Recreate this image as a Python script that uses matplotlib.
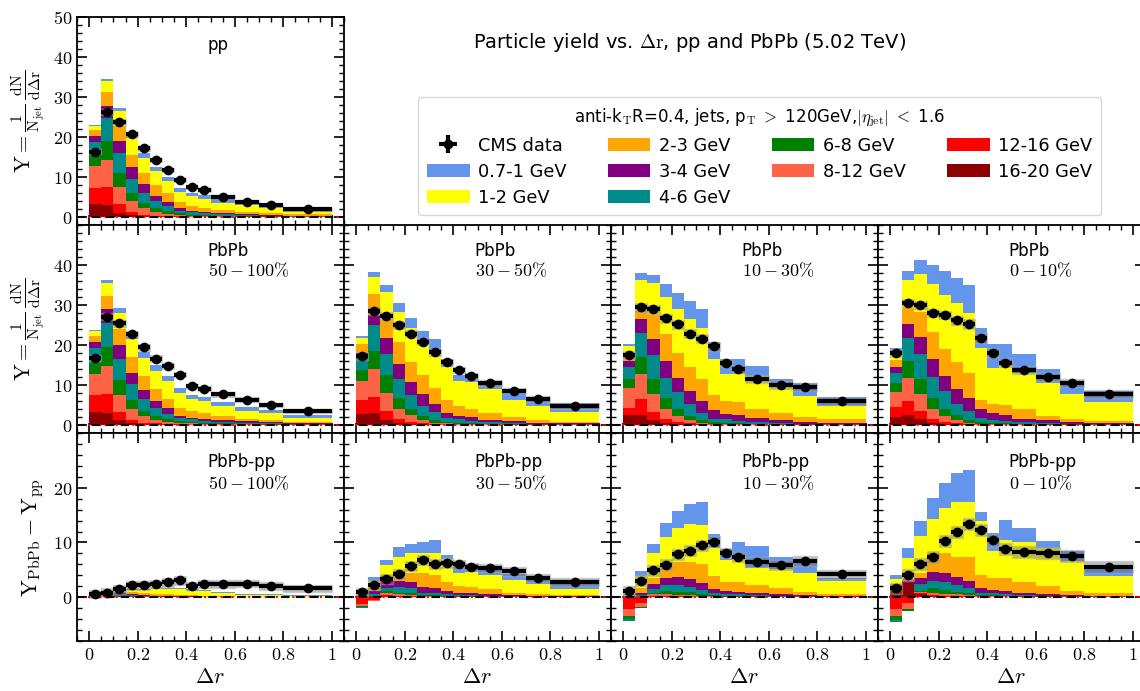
import numpy as np
import matplotlib
matplotlib.use("Agg")
import matplotlib.pyplot as plt
from matplotlib.ticker import MultipleLocator, FixedLocator, FuncFormatter
from matplotlib.patches import Patch, Rectangle

plt.rcParams['mathtext.fontset'] = 'cm'
plt.rcParams['font.family'] = ['DejaVu Sans']

# ---------------- data ----------------
bin_edges = [0, 0.05, 0.1, 0.15, 0.2, 0.25, 0.3, 0.35, 0.4, 0.45, 0.5, 0.6, 0.7, 0.8, 1.0]

# stacking order bottom -> top
track_labels = ['16-20 GeV', '12-16 GeV', '8-12 GeV', '6-8 GeV', '4-6 GeV',
                '3-4 GeV', '2-3 GeV', '1-2 GeV', '0.7-1 GeV']
track_colors = ['#8B0000', '#FF0000', '#FF6347', '#008000', '#008B8B',
                '#800080', '#FFA500', '#FFFF00', '#6495ED']

# pp
pp_stack = [
    [3.3, 3.0, 1.0, 0.5, 0.2, 0.1, 0.05, 0.03, 0.02, 0.02, 0.01, 0.01, 0.01, 0.0],
    [3.95, 4.4, 2.3, 0.8, 0.4, 0.25, 0.15, 0.1, 0.05, 0.04, 0.03, 0.02, 0.01, 0.01],
    [5.45, 6.8, 4.1, 2.6, 1.6, 0.95, 0.6, 0.37, 0.25, 0.2, 0.1, 0.08, 0.05, 0.03],
    [2.7, 4.7, 3.6, 2.1, 1.4, 0.9, 0.6, 0.4, 0.3, 0.24, 0.16, 0.1, 0.08, 0.05],
    [3.3, 5.8, 4.9, 3.6, 2.4, 1.7, 1.3, 0.7, 0.6, 0.5, 0.4, 0.3, 0.2, 0.12],
    [1.6, 3.1, 3.2, 2.8, 2.3, 1.35, 1.1, 0.6, 0.3, 0.2, 0.3, 0.3, 0.25, 0.15],
    [1.4, 3.4, 3.7, 3.2, 2.8, 2.75, 2.2, 1.5, 1.2, 1.1, 0.7, 0.5, 0.4, 0.3],
    [1.0, 2.8, 3.6, 4.15, 3.65, 3.4, 2.9, 2.5, 2.5, 2.3, 1.8, 1.6, 1.2, 0.6],
    [0.3, 0.5, 0.85, 0.85, 1.15, 1.2, 1.2, 1.1, 0.9, 1.0, 0.9, 0.5, 0.4, 0.4],
]
pp_data = [16.3, 26.25, 23.8, 20.7, 17.2, 14.2, 11.8, 9.3, 7.4, 6.75, 5.1, 3.8, 2.9, 1.9]
pp_sys = [0.6, 0.7, 0.7, 0.6, 0.6, 0.5, 0.5, 0.5, 0.4, 0.4, 0.4, 0.4, 0.4, 0.4]

# PbPb 50-100%
pbpb_50_100_stack = [
    [3.25, 3.0, 1.2, 0.5, 0.2, 0.1, 0.05, 0.03, 0.02, 0.02, 0.01, 0.01, 0.01, 0.0],
    [4.35, 4.75, 2.05, 0.8, 0.4, 0.3, 0.15, 0.1, 0.06, 0.05, 0.03, 0.02, 0.01, 0.01],
    [5.2, 7.0, 4.25, 2.6, 1.6, 0.9, 0.6, 0.37, 0.3, 0.25, 0.15, 0.1, 0.06, 0.04],
    [2.8, 4.65, 3.7, 2.3, 1.3, 1.0, 0.7, 0.5, 0.4, 0.3, 0.2, 0.15, 0.1, 0.06],
    [3.6, 6.0, 5.2, 4.0, 2.9, 1.9, 1.3, 0.8, 0.6, 0.5, 0.4, 0.3, 0.2, 0.12],
    [1.55, 3.5, 3.6, 2.9, 2.3, 1.7, 1.4, 0.5, 0.4, 0.4, 0.4, 0.3, 0.25, 0.15],
    [1.5, 3.3, 4.1, 3.9, 3.5, 3.0, 2.4, 1.9, 1.6, 1.4, 1.0, 0.6, 0.5, 0.3],
    [1.25, 3.4, 4.0, 4.6, 4.5, 4.6, 4.5, 3.7, 3.2, 3.1, 2.55, 2.0, 1.9, 1.1],
    [0.3, 0.6, 1.15, 1.1, 1.55, 1.4, 1.2, 1.3, 0.8, 0.9, 1.0, 0.9, 0.75, 0.65],
]
pbpb_50_100_data = [16.8, 27.1, 25.4, 22.8, 19.4, 16.6, 14.75, 12.6, 9.7, 9.1, 7.7, 6.3, 5.1, 3.5]
pbpb_50_100_sys = [0.8, 0.9, 0.9, 0.8, 0.8, 0.8, 0.7, 0.7, 0.6, 0.6, 0.6, 0.6, 0.5, 0.5]

# PbPb 30-50%
pbpb_30_50_stack = [
    [2.7, 2.9, 1.2, 0.6, 0.3, 0.15, 0.08, 0.05, 0.03, 0.02, 0.01, 0.01, 0.01, 0.0],
    [3.6, 4.2, 2.2, 1.0, 0.5, 0.25, 0.12, 0.07, 0.05, 0.04, 0.03, 0.02, 0.01, 0.01],
    [4.7, 6.8, 4.7, 2.3, 1.6, 0.8, 0.4, 0.28, 0.22, 0.19, 0.11, 0.07, 0.06, 0.04],
    [2.8, 4.7, 4.3, 2.8, 1.6, 1.1, 0.6, 0.4, 0.3, 0.25, 0.2, 0.15, 0.07, 0.05],
    [2.6, 6.3, 5.35, 4.7, 3.5, 2.45, 2.0, 0.9, 0.8, 0.6, 0.35, 0.25, 0.2, 0.1],
    [1.6, 2.5, 3.95, 3.85, 3.3, 3.0, 2.1, 1.4, 0.8, 0.8, 0.5, 0.4, 0.25, 0.2],
    [2.2, 5.3, 4.5, 5.45, 5.0, 4.85, 3.9, 3.2, 2.5, 2.0, 1.7, 1.1, 0.7, 0.4],
    [1.6, 4.3, 7.05, 7.5, 8.5, 8.6, 9.3, 8.2, 6.3, 6.9, 6.1, 4.2, 3.4, 2.45],
    [0.45, 1.25, 1.85, 2.3, 2.4, 2.3, 2.9, 1.9, 1.5, 1.6, 1.6, 1.7, 1.7, 2.35],
]
pbpb_30_50_data = [17.25, 28.5, 27.3, 24.9, 22.8, 20.8, 18.2, 15.75, 13.7, 12.25, 10.5, 8.6, 6.5, 4.75]
pbpb_30_50_sys = [0.9, 1.0, 1.0, 1.0, 0.9, 0.9, 0.9, 0.8, 0.8, 0.8, 0.7, 0.7, 0.7, 0.7]

# PbPb 10-30%
pbpb_10_30_stack = [
    [2.4, 2.6, 1.2, 0.6, 0.3, 0.15, 0.08, 0.05, 0.03, 0.02, 0.01, 0.01, 0.01, 0.0],
    [1.9, 3.8, 2.0, 0.8, 0.4, 0.25, 0.12, 0.07, 0.05, 0.04, 0.03, 0.02, 0.01, 0.01],
    [4.95, 6.3, 4.55, 2.7, 1.55, 0.8, 0.4, 0.23, 0.17, 0.14, 0.11, 0.07, 0.05, 0.04],
    [2.35, 4.3, 3.65, 2.6, 1.65, 1.1, 0.6, 0.35, 0.35, 0.3, 0.2, 0.15, 0.08, 0.05],
    [3.0, 5.9, 6.0, 5.05, 4.3, 3.0, 1.9, 0.8, 0.8, 0.6, 0.45, 0.35, 0.2, 0.15],
    [1.5, 3.7, 4.0, 4.15, 3.5, 3.2, 3.0, 2.2, 1.35, 1.3, 0.9, 0.6, 0.35, 0.25],
    [1.6, 1.9, 6.0, 6.85, 6.2, 6.0, 5.3, 3.9, 3.15, 3.35, 2.4, 1.9, 1.3, 0.9],
    [2.0, 7.7, 8.0, 9.25, 11.1, 11.9, 12.9, 9.0, 6.8, 6.95, 8.15, 6.65, 5.25, 3.35],
    [0.55, 1.7, 2.2, 3.3, 3.9, 4.5, 4.6, 4.2, 3.7, 3.7, 2.45, 1.65, 3.35, 2.15],
]
pbpb_10_30_data = [17.5, 29.4, 28.9, 26.7, 25.2, 22.8, 21.6, 19.7, 15.6, 14.0, 11.6, 9.9, 9.6, 6.1]
pbpb_10_30_sys = [1.0, 1.1, 1.1, 1.1, 1.1, 1.1, 1.1, 1.1, 1.0, 1.0, 1.0, 1.0, 1.0, 1.0]

# PbPb 0-10%
pbpb_0_10_stack = [
    [2.1, 2.5, 1.4, 0.6, 0.3, 0.15, 0.08, 0.05, 0.03, 0.02, 0.01, 0.01, 0.01, 0.0],
    [2.5, 3.5, 2.0, 1.0, 0.5, 0.25, 0.12, 0.07, 0.05, 0.04, 0.03, 0.02, 0.01, 0.01],
    [3.6, 5.7, 4.3, 2.5, 1.45, 0.8, 0.4, 0.23, 0.17, 0.14, 0.11, 0.07, 0.05, 0.04],
    [2.2, 4.3, 3.7, 2.7, 1.85, 1.2, 0.7, 0.45, 0.35, 0.3, 0.2, 0.15, 0.08, 0.05],
    [2.5, 5.8, 6.3, 5.3, 4.4, 2.9, 2.3, 0.9, 0.6, 0.5, 0.35, 0.25, 0.15, 0.1],
    [1.6, 3.5, 4.3, 4.5, 3.75, 3.8, 3.1, 2.2, 1.7, 1.5, 0.9, 0.7, 0.4, 0.3],
    [1.7, 4.0, 6.25, 6.65, 6.85, 6.65, 6.2, 2.3, 2.3, 2.4, 2.3, 1.05, 0.9, 0.5],
    [2.3, 6.9, 9.45, 11.95, 13.3, 14.65, 15.0, 13.1, 9.1, 10.5, 9.0, 8.35, 6.1, 4.75],
    [0.7, 2.3, 3.55, 4.7, 6.1, 6.4, 7.1, 4.9, 5.9, 4.9, 4.8, 3.5, 2.3, 2.75],
]
pbpb_0_10_data = [18.0, 30.5, 30.0, 28.0, 27.5, 26.2, 25.25, 21.75, 18.1, 15.6, 13.7, 12.0, 10.6, 7.7]
pbpb_0_10_sys = [1.0, 1.1, 1.1, 1.1, 1.1, 1.1, 1.2, 1.2, 1.1, 1.1, 1.0, 1.0, 1.0, 1.0]

# PbPb - pp
diff_50_100_stack = [
    [0.0, 0.0, 0.0, 0.0, 0.0, 0.0, 0.0, 0.0, 0.0, 0.0, 0.0, 0.0, 0.0, 0.0],
    [0.0, 0.05, 0.02, 0.01, 0.0, 0.0, 0.0, 0.0, 0.0, 0.0, 0.0, 0.0, 0.0, 0.0],
    [0.05, 0.1, 0.08, 0.05, 0.03, 0.02, 0.01, 0.01, 0.0, 0.0, 0.0, 0.0, 0.0, 0.0],
    [0.05, 0.1, 0.1, 0.1, 0.05, 0.04, 0.03, 0.02, 0.02, 0.01, 0.01, 0.0, 0.0, 0.0],
    [0.1, 0.25, 0.25, 0.2, 0.15, 0.1, 0.08, 0.05, 0.04, 0.03, 0.02, 0.01, 0.01, 0.01],
    [0.05, 0.2, 0.25, 0.2, 0.2, 0.15, 0.12, 0.1, 0.08, 0.06, 0.04, 0.03, 0.02, 0.02],
    [0.1, 0.2, 0.3, 0.35, 0.35, 0.35, 0.3, 0.25, 0.2, 0.15, 0.1, 0.06, 0.05, 0.04],
    [0.1, 0.2, 0.3, 0.4, 0.55, 0.8, 0.95, 1.0, 0.85, 0.8, 0.55, 0.35, 0.3, 0.2],
    [0.05, 0.1, 0.1, 0.1, 0.1, 0.15, 0.2, 0.3, 0.25, 0.2, 0.2, 0.2, 0.15, 0.15],
]
diff_50_100_data = [0.55, 0.8, 1.45, 2.2, 2.2, 2.4, 2.75, 3.1, 2.1, 2.4, 2.4, 2.5, 2.1, 1.6]
diff_50_100_sys = [0.7, 0.8, 0.8, 0.8, 0.8, 0.8, 0.8, 0.8, 0.7, 0.7, 0.7, 0.7, 0.7, 0.7]

diff_30_50_stack = [
    [-0.2, -0.1, 0.1, 0.1, 0.05, 0.03, 0.02, 0.01, 0.01, 0.01, 0.0, 0.0, 0.0, 0.0],
    [-1.1, -0.5, 0.25, 0.15, 0.1, 0.07, 0.05, 0.03, 0.02, 0.02, 0.01, 0.01, 0.0, 0.0],
    [-0.3, -0.1, 0.35, 0.25, 0.2, 0.15, 0.1, 0.06, 0.05, 0.04, 0.03, 0.02, 0.01, 0.01],
    [-0.2, 0.15, 0.45, 0.35, 0.35, 0.2, 0.2, 0.15, 0.1, 0.08, 0.06, 0.04, 0.03, 0.02],
    [-0.1, 0.45, 0.6, 1.1, 0.95, 0.4, 0.33, 0.25, 0.2, 0.2, 0.15, 0.1, 0.06, 0.04],
    [0.15, 0.5, 1.25, 1.05, 1.05, 0.95, 1.05, 0.65, 0.47, 0.4, 0.25, 0.2, 0.1, 0.08],
    [0.3, 0.6, 0.9, 1.8, 1.8, 2.6, 2.25, 1.65, 1.2, 1.2, 0.95, 0.48, 0.3, 0.2],
    [0.45, 1.3, 1.9, 2.6, 3.5, 3.75, 4.0, 4.1, 2.45, 2.65, 2.65, 2.25, 2.0, 1.1],
    [0.1, 0.7, 1.0, 1.7, 1.7, 1.95, 2.4, 0.8, 1.95, 1.4, 1.6, 1.2, 1.1, 0.95],
]
diff_30_50_data = [0.9, 2.2, 3.3, 4.2, 5.65, 6.75, 6.1, 6.3, 6.0, 5.5, 5.35, 4.7, 3.5, 2.8]
diff_30_50_sys = [0.8, 0.9, 0.9, 0.9, 0.9, 0.9, 0.9, 0.9, 0.8, 0.8, 0.8, 0.8, 0.8, 0.8]

diff_10_30_stack = [
    [0.05, 0.05, 0.1, 0.1, 0.05, 0.03, 0.02, 0.01, 0.01, 0.01, 0.0, 0.0, 0.0, 0.0],
    [-2.2, -1.1, 0.15, 0.15, 0.1, 0.07, 0.05, 0.03, 0.02, 0.02, 0.01, 0.01, 0.0, 0.0],
    [-1.2, -0.6, 0.25, 0.35, 0.3, 0.25, 0.2, 0.12, 0.07, 0.06, 0.05, 0.03, 0.02, 0.01],
    [-0.6, -0.3, 0.35, 0.5, 0.55, 0.55, 0.4, 0.25, 0.15, 0.13, 0.1, 0.08, 0.05, 0.03],
    [-0.4, 0.3, 0.6, 1.1, 1.2, 1.0, 0.7, 0.3, 0.3, 0.28, 0.2, 0.15, 0.1, 0.06],
    [0.1, 0.4, 0.95, 1.4, 1.5, 1.4, 1.2, 0.75, 0.6, 0.5, 0.4, 0.28, 0.2, 0.1],
    [0.15, 0.85, 1.2, 2.6, 2.8, 3.2, 3.55, 2.45, 1.7, 1.7, 1.45, 1.05, 0.5, 0.3],
    [0.15, 2.3, 4.4, 4.8, 6.15, 6.8, 7.1, 5.0, 3.95, 4.95, 3.2, 3.5, 3.55, 2.5],
    [0.05, 0.9, 1.7, 2.5, 3.1, 3.7, 4.2, 2.7, 1.95, 2.5, 3.95, 2.3, 2.2, 0.5],
]
diff_10_30_data = [1.15, 3.0, 4.9, 5.95, 7.85, 8.5, 9.5, 10.15, 8.0, 7.35, 6.4, 5.95, 6.55, 4.15]
diff_10_30_sys = [0.9, 1.0, 1.0, 1.0, 1.0, 1.0, 1.0, 1.0, 0.9, 0.9, 0.9, 0.9, 0.9, 0.9]

diff_0_10_stack = [
    [1.8, 2.6, 0.5, 0.2, 0.1, 0.1, 0.05, 0.03, 0.02, 0.01, 0.01, 0.0, 0.0, 0.0],
    [-2.2, -1.0, 0.2, 0.25, 0.2, 0.15, 0.1, 0.07, 0.05, 0.04, 0.03, 0.02, 0.01, 0.01],
    [-1.2, -1.2, 0.2, 0.4, 0.35, 0.25, 0.2, 0.15, 0.1, 0.08, 0.06, 0.04, 0.03, 0.02],
    [-0.7, -0.3, 0.3, 0.75, 0.7, 0.5, 0.4, 0.2, 0.18, 0.15, 0.1, 0.08, 0.05, 0.04],
    [-0.5, -0.05, 1.3, 1.4, 1.45, 1.2, 0.9, 0.4, 0.35, 0.3, 0.25, 0.16, 0.1, 0.08],
    [0.3, 0.3, 1.0, 1.6, 1.6, 1.5, 1.35, 0.9, 0.6, 0.57, 0.4, 0.25, 0.2, 0.15],
    [0.3, 0.5, 0.9, 3.55, 3.6, 3.7, 4.35, 2.25, 2.2, 2.45, 1.95, 1.5, 0.75, 0.55],
    [1.0, 3.8, 6.7, 6.2, 8.25, 10.0, 10.05, 9.9, 4.95, 6.8, 7.2, 6.85, 5.45, 3.05],
    [0.6, 1.8, 2.8, 3.85, 4.65, 5.35, 5.8, 1.7, 3.35, 3.65, 2.6, 1.4, 1.85, 1.6],
]
diff_0_10_data = [1.6, 4.1, 6.1, 7.4, 10.2, 11.9, 13.3, 12.3, 10.45, 8.75, 8.3, 8.1, 7.6, 5.6]
diff_0_10_sys = [1.0, 1.1, 1.1, 1.1, 1.1, 1.1, 1.1, 1.1, 1.1, 1.1, 1.1, 1.1, 1.1, 1.1]

centralities = ['50-100%', '30-50%', '10-30%', '0-10%']
cent_math = [r'$50-100\%$', r'$30-50\%$', r'$10-30\%$', r'$0-10\%$']

# ---------------- drawing ----------------
W, H = 1140, 691
fig = plt.figure(figsize=(W / 100, H / 100), dpi=100)

AX_L, AX_W, AX_H = 77, 267, 208
ROW_TOP = [17, 225, 433]


def make_ax(col, row):
    left = (AX_L + AX_W * col) / W
    bottom = (H - (ROW_TOP[row] + AX_H)) / H
    return fig.add_axes([left, bottom, AX_W / W, AX_H / H])


edges = np.array(bin_edges)
lefts = edges[:-1]
widths = np.diff(edges)
centers = lefts + widths / 2

fmt = FuncFormatter(lambda v, p: '$%g$' % v)


def draw_panel(ax, stack, data, sys, ylim, yticks):
    pos = np.zeros(len(lefts))
    neg = np.zeros(len(lefts))
    for vals, col in zip(stack, track_colors):
        v = np.array(vals, dtype=float)
        bottom = np.where(v >= 0, pos, neg)
        ax.bar(lefts, v, width=widths, bottom=bottom, align='edge',
               color=col, linewidth=0, zorder=2)
        pos = pos + np.clip(v, 0, None)
        neg = neg + np.clip(v, None, 0)
    d = np.array(data)
    s = np.array(sys)
    for x0, w, y, e in zip(lefts, widths, d, s):
        ax.add_patch(Rectangle((x0, y - e), w, 2 * e, facecolor='#707070',
                               alpha=0.45, edgecolor='#b0b0b0', linewidth=1.0,
                               zorder=3))
    cont = ax.errorbar(centers, d, xerr=widths / 2, yerr=0.25 * s, fmt='o',
                       color='black', ms=6, elinewidth=3, capsize=0, zorder=4)
    ax.axhline(0, color='red', ls=':', lw=1.5, zorder=4.5)
    ax.axhline(0, color='black', ls='--', lw=1.5, zorder=5, dashes=(4, 3))
    ax.set_xlim(-0.05, 1.05)
    ax.set_ylim(*ylim)
    ax.xaxis.set_major_locator(FixedLocator([0, 0.2, 0.4, 0.6, 0.8, 1.0]))
    ax.xaxis.set_minor_locator(MultipleLocator(0.05))
    ax.yaxis.set_major_locator(FixedLocator(yticks))
    ax.yaxis.set_minor_locator(MultipleLocator(2))
    ax.xaxis.set_major_formatter(fmt)
    ax.yaxis.set_major_formatter(fmt)
    ax.tick_params(which='both', direction='in', top=True, right=True,
                   labelsize=13)
    ax.tick_params(which='major', length=7, width=1.2)
    ax.tick_params(which='minor', length=3.5, width=1.0)
    for sp in ax.spines.values():
        sp.set_linewidth(1.3)
    return cont


ylab_top = r'$\mathrm{Y}=\frac{1}{\mathrm{N_{jet}}}\,\frac{\mathrm{dN}}{\mathrm{d\Delta r}}$'
ylab_bot = r'$\mathrm{Y_{PbPb}-Y_{pp}}$'

# top row: pp
ax_pp = make_ax(0, 0)
cms_handle = draw_panel(ax_pp, pp_stack, pp_data, pp_sys, (-2, 50), [0, 10, 20, 30, 40, 50])
ax_pp.tick_params(labelbottom=False)
ax_pp.text(0.49, 0.865, 'pp', transform=ax_pp.transAxes, fontsize=12, va='center')
ax_pp.set_ylabel(ylab_top, fontsize=16, labelpad=4)

mid_stacks = [pbpb_50_100_stack, pbpb_30_50_stack, pbpb_10_30_stack, pbpb_0_10_stack]
mid_data = [pbpb_50_100_data, pbpb_30_50_data, pbpb_10_30_data, pbpb_0_10_data]
mid_sys = [pbpb_50_100_sys, pbpb_30_50_sys, pbpb_10_30_sys, pbpb_0_10_sys]
bot_stacks = [diff_50_100_stack, diff_30_50_stack, diff_10_30_stack, diff_0_10_stack]
bot_data = [diff_50_100_data, diff_30_50_data, diff_10_30_data, diff_0_10_data]
bot_sys = [diff_50_100_sys, diff_30_50_sys, diff_10_30_sys, diff_0_10_sys]

for c in range(4):
    ax = make_ax(c, 1)
    draw_panel(ax, mid_stacks[c], mid_data[c], mid_sys[c], (-2, 50), [0, 10, 20, 30, 40])
    ax.tick_params(labelbottom=False)
    ax.text(0.49, 0.875, 'PbPb', transform=ax.transAxes, fontsize=12, va='center')
    ax.text(0.49, 0.78, cent_math[c], transform=ax.transAxes, fontsize=13, va='center')
    if c == 0:
        ax.set_ylabel(ylab_top, fontsize=16, labelpad=4)
    else:
        ax.tick_params(labelleft=False)

    axb = make_ax(c, 2)
    draw_panel(axb, bot_stacks[c], bot_data[c], bot_sys[c], (-8, 30), [0, 10, 20])
    axb.text(0.49, 0.86, 'PbPb-pp', transform=axb.transAxes, fontsize=12, va='center')
    axb.text(0.49, 0.755, cent_math[c], transform=axb.transAxes, fontsize=13, va='center')
    axb.set_xlabel(r'$\Delta r$', fontsize=16, labelpad=2)
    if c == 0:
        axb.set_ylabel(ylab_bot, fontsize=16, labelpad=4)
    else:
        axb.tick_params(labelleft=False)

# title
fig.text(690 / W, 1 - 42 / H, r'Particle yield vs. $\Delta\mathrm{r}$, pp and PbPb (5.02 TeV)',
         ha='center', va='center', fontsize=14)

# legend
handles = [cms_handle] + [Patch(facecolor=track_colors[i], edgecolor='none')
                          for i in range(len(track_colors) - 1, -1, -1)]
labels = ['CMS data'] + [track_labels[i] for i in range(len(track_labels) - 1, -1, -1)]
leg = fig.legend(handles, labels, loc='upper left',
                 bbox_to_anchor=(418 / W, 1 - 97 / H), ncol=4, fontsize=12.8,
                 title=r'anti-k$_\mathrm{T}$R=0.4, jets, p$_\mathrm{T}$ $>$ 120GeV,$|\eta_\mathrm{jet}|$ $<$ 1.6',
                 title_fontsize=12, columnspacing=2.3, handlelength=2.4,
                 handletextpad=0.5, labelspacing=0.45, borderpad=0.5,
                 borderaxespad=0, frameon=True, fancybox=True, edgecolor='#cccccc')

fig.savefig('out.png', dpi=100)
